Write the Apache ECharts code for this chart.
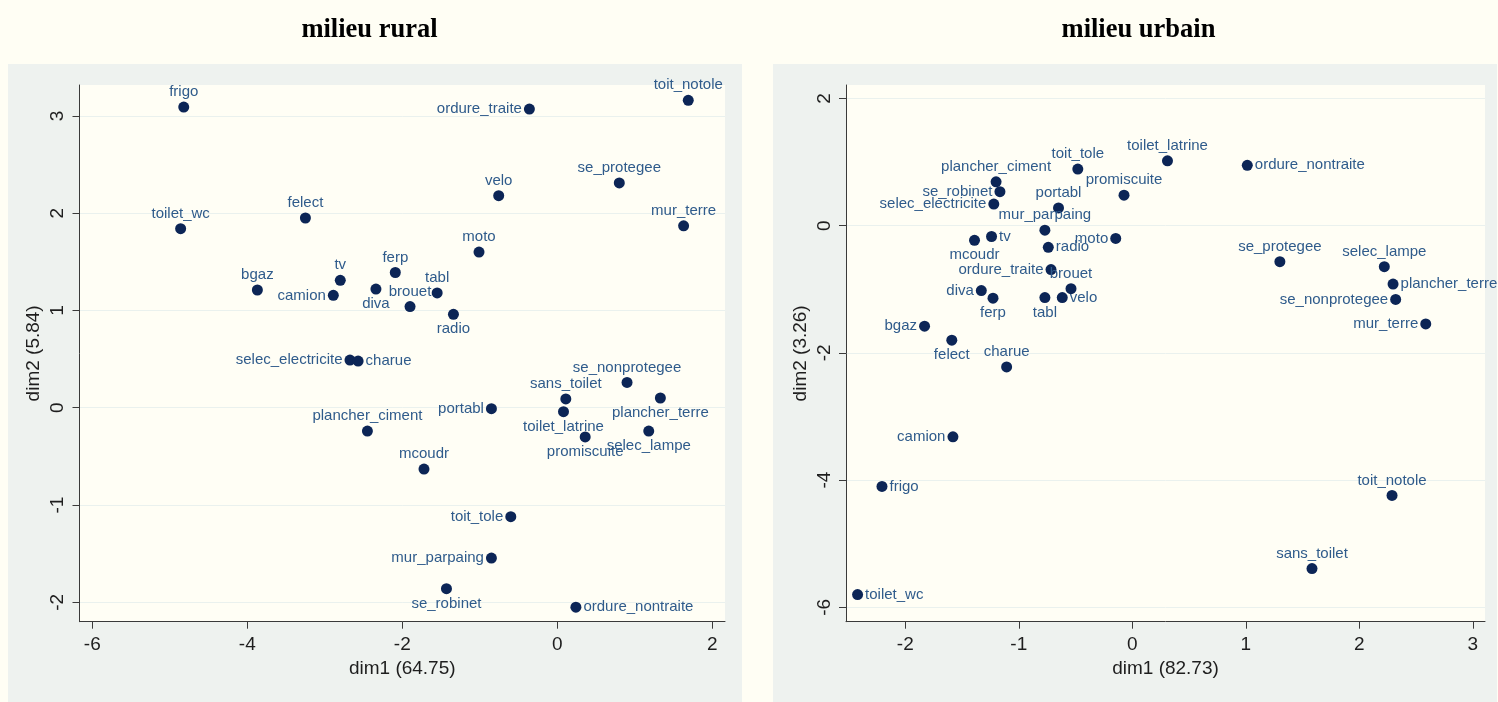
<!DOCTYPE html>
<html><head><meta charset="utf-8">
<script src="https://cdn.jsdelivr.net/npm/echarts@6/dist/echarts.min.js"></script>
<style>html,body{margin:0;padding:0;background:#fffef4}#c{width:1498px;height:702px}</style>
</head><body><div id="c"></div>
<script>
// ---- data: milieu rural ----
const ruralNames = ['frigo','toilet_wc','felect','bgaz','tv','camion','diva','ferp','brouet','tabl','radio','moto','velo','ordure_traite','se_protegee','toit_notole','mur_terre','selec_electricite','charue','plancher_ciment','portabl','mcoudr','sans_toilet','toilet_latrine','se_nonprotegee','plancher_terre','selec_lampe','promiscuite','toit_tole','mur_parpaing','se_robinet','ordure_nontraite'];
const ruralDim1 = [-4.82,-4.86,-3.25,-3.87,-2.80,-2.89,-2.34,-2.09,-1.90,-1.55,-1.34,-1.01,-0.756,-0.36,0.80,1.69,1.63,-2.675,-2.57,-2.45,-0.85,-1.72,0.11,0.08,0.90,1.33,1.18,0.36,-0.60,-0.85,-1.43,0.24];
const ruralDim2 = [3.09,1.84,1.95,1.21,1.31,1.155,1.22,1.39,1.04,1.18,0.96,1.60,2.18,3.07,2.31,3.16,1.87,0.49,0.48,-0.24,-0.01,-0.63,0.09,-0.04,0.26,0.10,-0.24,-0.30,-1.12,-1.545,-1.86,-2.05];
const ruralXTicks = [-6,-4,-2,0,2];
const ruralYTicks = [-2,-1,0,1,2,3];

// ---- data: milieu urbain ----
const urbanNames = ['plancher_ciment','se_robinet','selec_electricite','toit_tole','promiscuite','portabl','mur_parpaing','tv','mcoudr','radio','moto','ordure_traite','brouet','velo','tabl','diva','ferp','bgaz','felect','charue','toilet_latrine','ordure_nontraite','se_protegee','selec_lampe','plancher_terre','se_nonprotegee','mur_terre','camion','frigo','toilet_wc','toit_notole','sans_toilet'];
const urbanDim1 = [-1.20,-1.166,-1.22,-0.48,-0.073,-0.65,-0.77,-1.24,-1.39,-0.74,-0.146,-0.716,-0.54,-0.617,-0.77,-1.33,-1.227,-1.83,-1.59,-1.107,0.31,1.013,1.30,2.22,2.297,2.32,2.585,-1.58,-2.205,-2.42,2.288,1.583];
const urbanDim2 = [0.69,0.535,0.34,0.89,0.48,0.28,-0.07,-0.17,-0.23,-0.34,-0.20,-0.69,-0.99,-1.13,-1.13,-1.02,-1.14,-1.58,-1.80,-2.22,1.02,0.95,-0.566,-0.645,-0.917,-1.16,-1.545,-3.32,-4.10,-5.80,-4.24,-5.39];
const urbanXTicks = [-2,-1,0,1,2,3];
const urbanYTicks = [-6,-4,-2,0,2];

// ---- label placement (style) ----
const ruralLabelPos = {camion:'left',diva:'bottom',radio:'bottom',ordure_traite:'left',selec_electricite:'left',charue:'right',portabl:'left',toilet_latrine:'bottom',plancher_terre:'bottom',selec_lampe:'bottom',promiscuite:'bottom',toit_tole:'left',mur_parpaing:'left',se_robinet:'bottom',ordure_nontraite:'right'};
const urbanLabelPos = {se_robinet:'left',selec_electricite:'left',tv:'right',mcoudr:'bottom',radio:'right',moto:'left',ordure_traite:'left',velo:'right',tabl:'bottom',diva:'left',ferp:'bottom',bgaz:'left',felect:'bottom',ordure_nontraite:'right',plancher_terre:'right',se_nonprotegee:'left',mur_terre:'left',camion:'left',frigo:'right',toilet_wc:'right'};

const MARK = '#0c2556', LAB = '#2f5b8b', AX = '#3a3a3a', TXT = '#1e1e1e';
const SANS = '"Liberation Sans", Arial, Helvetica, sans-serif';
const SERIF = '"Liberation Serif", "Times New Roman", serif';

function build(names, xs, ys, pos) {
  return names.map((n, i) => ({name: n, value: [xs[i], ys[i]], label: {position: pos[n] || 'top'}}));
}
function xAxis(grid, min, max, ticks, name) {
  return {type:'value', gridIndex:grid, min:min, max:max, name:name, nameLocation:'middle', nameGap:36,
    nameTextStyle:{fontSize:19, color:TXT, fontFamily:SANS},
    axisLine:{show:true, onZero:false, lineStyle:{color:AX, width:1}},
    axisTick:{show:true, customValues:ticks, length:7, lineStyle:{color:AX}},
    axisLabel:{customValues:ticks, fontSize:19, color:TXT, margin:14, fontFamily:SANS},
    splitLine:{show:false}};
}
function yAxis(grid, min, max, ticks, name) {
  return {type:'value', gridIndex:grid, min:min, max:max, name:name, nameLocation:'middle', nameGap:36, nameRotate:90,
    nameTextStyle:{fontSize:19, color:TXT, fontFamily:SANS},
    axisLine:{show:true, onZero:false, lineStyle:{color:AX, width:1}},
    axisTick:{show:true, customValues:ticks, length:7, lineStyle:{color:AX}},
    axisLabel:{customValues:ticks, fontSize:19, color:TXT, margin:12, rotate:90, fontFamily:SANS},
    splitLine:{show:true, lineStyle:{color:'#eaf1ee', width:1}}};
}
function series(idx, data) {
  return {type:'scatter', xAxisIndex:idx, yAxisIndex:idx, symbol:'circle', symbolSize:11, data:data,
    itemStyle:{color:MARK, opacity:1},
    label:{show:true, formatter:'{b}', color:LAB, fontSize:15, distance:2, fontFamily:SANS},
    emphasis:{disabled:true}};
}

const chart = echarts.init(document.getElementById('c'), null, {renderer:'canvas'});
chart.setOption({
  backgroundColor:'#fffef4',
  animation:false,
  graphic:[
    {type:'rect', z:-10, shape:{x:8, y:64, width:734, height:640}, style:{fill:'#eef2ef'}},
    {type:'rect', z:-10, shape:{x:773, y:64, width:724, height:640}, style:{fill:'#eef2ef'}}
  ],
  title:[
    {text:'milieu rural', left:369.5, top:17, padding:0, textAlign:'center', textStyle:{fontFamily:SERIF, fontWeight:'bold', fontSize:26.5, color:'#000'}},
    {text:'milieu urbain', left:1138.5, top:17, padding:0, textAlign:'center', textStyle:{fontFamily:SERIF, fontWeight:'bold', fontSize:26.5, color:'#000'}}
  ],
  grid:[
    {left:79.5, top:85, width:645.5, height:536.7, show:true, backgroundColor:'#fffef5', borderWidth:0},
    {left:846, top:85, width:639, height:536.7, show:true, backgroundColor:'#fffef5', borderWidth:0}
  ],
  xAxis:[
    xAxis(0, -6.165, 2.164, ruralXTicks, 'dim1 (64.75)'),
    xAxis(1, -2.522, 3.107, urbanXTicks, 'dim1 (82.73)')
  ],
  yAxis:[
    yAxis(0, -2.199, 3.317, ruralYTicks, 'dim2 (5.84)'),
    yAxis(1, -6.226, 2.212, urbanYTicks, 'dim2 (3.26)')
  ],
  series:[
    series(0, build(ruralNames, ruralDim1, ruralDim2, ruralLabelPos)),
    series(1, build(urbanNames, urbanDim1, urbanDim2, urbanLabelPos))
  ]
});
</script></body></html>
